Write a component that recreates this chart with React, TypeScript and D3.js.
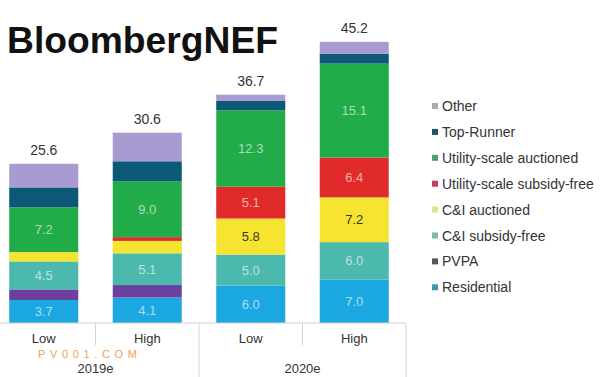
import React from "react";
import * as d3 from "d3";

const categories = ["2019e Low", "2019e High", "2020e Low", "2020e High"];
const scenarioLabels = ["Low", "High", "Low", "High"];
const yearLabels = ["2019e", "2020e"];
const seriesNames = [
  "Residential",
  "PVPA",
  "C&I subsidy-free",
  "C&I auctioned",
  "Utility-scale subsidy-free",
  "Utility-scale auctioned",
  "Top-Runner",
  "Other",
];
const residential = [3.7, 4.1, 6.0, 7.0];
const pvpa = [1.7, 2.0, 0, 0];
const ciSubsidyFree = [4.5, 5.1, 5.0, 6.0];
const ciAuctioned = [1.5, 2.0, 5.8, 7.2];
const utilitySubsidyFree = [0, 0.6, 5.1, 6.4];
const utilityAuctioned = [7.2, 9.0, 12.3, 15.1];
const topRunner = [3.2, 3.2, 1.5, 1.6];
const other = [3.8, 4.6, 1.0, 1.9];
const totals = [25.6, 30.6, 36.7, 45.2];
const labeledSeries = [
  "Residential",
  "C&I subsidy-free",
  "C&I auctioned",
  "Utility-scale subsidy-free",
  "Utility-scale auctioned",
];
const legendOrder = [
  "Other",
  "Top-Runner",
  "Utility-scale auctioned",
  "Utility-scale subsidy-free",
  "C&I auctioned",
  "C&I subsidy-free",
  "PVPA",
  "Residential",
];

const seriesValues = [
  residential,
  pvpa,
  ciSubsidyFree,
  ciAuctioned,
  utilitySubsidyFree,
  utilityAuctioned,
  topRunner,
  other,
];
const barColors: Record<string, string> = {
  Residential: "#1ba8e0",
  PVPA: "#6a3f9e",
  "C&I subsidy-free": "#4cb9ae",
  "C&I auctioned": "#f6e431",
  "Utility-scale subsidy-free": "#e12b2a",
  "Utility-scale auctioned": "#22ab49",
  "Top-Runner": "#0c5877",
  Other: "#a99bd2",
};
const legendColors: Record<string, string> = {
  Residential: "#3a9ea6",
  PVPA: "#555555",
  "C&I subsidy-free": "#7cb8a6",
  "C&I auctioned": "#e3e38a",
  "Utility-scale subsidy-free": "#c0405e",
  "Utility-scale auctioned": "#4f9d72",
  "Top-Runner": "#1f5560",
  Other: "#aaaaaa",
};

const FONT = "'Liberation Sans', Arial, Helvetica, sans-serif";

export default function App() {
  const W = 612;
  const H = 377;
  const base = 323;
  const x = d3.scaleBand<string>().domain(categories).range([-8, 406]).paddingInner(0.333).paddingOuter(0.1665);
  const y = d3.scaleLinear().domain([0, 50]).range([base, 12]);

  const rows = categories.map((c, i) => {
    const r: any = { cat: c };
    seriesNames.forEach((s, j) => (r[s] = seriesValues[j][i]));
    return r;
  });
  const stacked = d3.stack<any>().keys(seriesNames)(rows);
  const step = x.step();
  const bandStart = (i: number) => (x(categories[i]) as number) - (step - x.bandwidth()) / 2;

  return (
    <svg width={W} height={H} style={{ position: "absolute", left: 0, top: 0, background: "#fff" }} fontFamily={FONT}>
      <rect width={W} height={H} fill="#fff" />
      <text x={7} y={53} fontSize={36} fontWeight="bold" fill="#111" textLength={271} lengthAdjust="spacingAndGlyphs">
        BloombergNEF
      </text>
      {stacked.map((layer) => (
        <g key={layer.key}>
          {layer.map((d, i) => {
            const h = y(d[0]) - y(d[1]);
            if (h <= 0) return null;
            const cx = (x(categories[i]) as number) + x.bandwidth() / 2;
            const v = d[1] - d[0];
            const showLabel = labeledSeries.includes(layer.key) && v >= 3.5;
            return (
              <g key={i}>
                <rect x={x(categories[i])} y={y(d[1])} width={x.bandwidth()} height={h} fill={barColors[layer.key]} />
                {showLabel && (
                  <text
                    x={cx}
                    y={(y(d[0]) + y(d[1])) / 2 + 4.5}
                    textAnchor="middle"
                    fontSize={13}
                    fill={layer.key === "C&I auctioned" ? "#3a3a2a" : "#ffffff"}
                    fillOpacity={layer.key === "C&I auctioned" ? 1 : 0.62}
                  >
                    {v.toFixed(1)}
                  </text>
                )}
              </g>
            );
          })}
        </g>
      ))}
      {totals.map((t, i) => (
        <text key={i} x={(x(categories[i]) as number) + x.bandwidth() / 2} y={y(t) - 9} textAnchor="middle" fontSize={14} fill="#333">
          {t.toFixed(1)}
        </text>
      ))}
      <line x1={0} x2={bandStart(3) + step} y1={base} y2={base} stroke="#cfcfcf" />
      {categories.map((c, i) => {
        const right = bandStart(i) + step;
        const full = i % 2 === 1;
        return <line key={c} x1={right} x2={right} y1={base} y2={full ? H : base + 22} stroke="#d5d5d5" />;
      })}
      {scenarioLabels.map((s, i) => (
        <text key={i} x={(x(categories[i]) as number) + x.bandwidth() / 2} y={343} textAnchor="middle" fontSize={13} fill="#333">
          {s}
        </text>
      ))}
      {yearLabels.map((yl, g) => {
        const right = bandStart(g * 2 + 1) + step;
        return (
          <text key={yl} x={(bandStart(g * 2) + right) / 2} y={373} textAnchor="middle" fontSize={13} fill="#333">
            {yl}
          </text>
        );
      })}
      <text x={38} y={357.5} fontSize={11} fill="#f0a05a" textLength={99} lengthAdjust="spacing">
        PV001.COM
      </text>
      {legendOrder.map((s, i) => (
        <g key={s} transform={`translate(432, ${106 + i * 25.9})`}>
          <rect x={0} y={-3} width={6} height={6} fill={legendColors[s]} />
          <text x={10} y={5} fontSize={14} fill="#333">
            {s}
          </text>
        </g>
      ))}
    </svg>
  );
}
